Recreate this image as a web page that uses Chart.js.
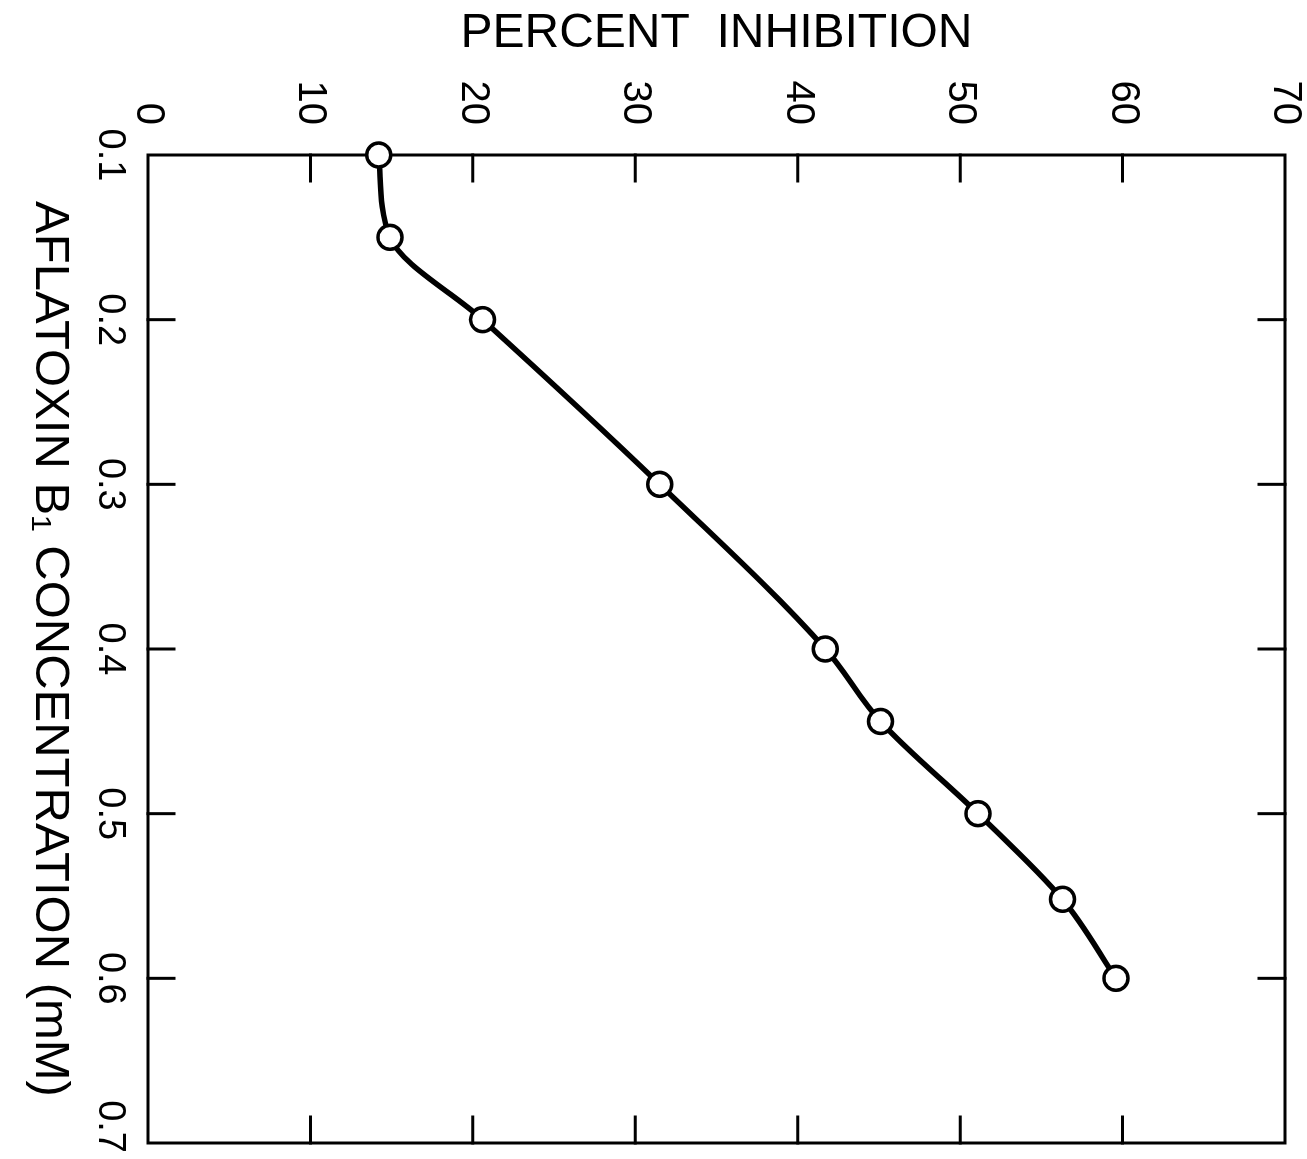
<!DOCTYPE html>
<html>
<head>
<meta charset="utf-8">
<script src="https://cdn.jsdelivr.net/npm/chart.js@4/dist/chart.umd.min.js"></script>
<style>
  html, body { margin: 0; padding: 0; background: #fff; overflow: hidden; }
  body { width: 1307px; height: 1159px; position: relative; }
  /* The figure is laid out as an ordinary chart, then turned a quarter turn clockwise */
  #wrap {
    position: absolute; left: 0; top: 0;
    width: 1159px; height: 1307px;
    transform-origin: 0 0;
    transform: translate(1307px, 0) rotate(90deg);
  }
</style>
</head>
<body>
<div id="wrap"><canvas id="c" width="1159" height="1307"></canvas></div>
<script>
// Aflatoxin B1 concentration (mM) and the percent inhibition measured at each
const concentration = [0.1, 0.15, 0.2, 0.3, 0.4, 0.444, 0.5, 0.552, 0.6];
const inhibition    = [14.2, 14.9, 20.6, 31.5, 41.7, 45.1, 51.1, 56.3, 59.6];

// Axis ticks
const concTicks = [0.1, 0.2, 0.3, 0.4, 0.5, 0.6, 0.7];
const concTickLabels = ['0.1', '0.2', '0.3', '0.4', '0.5', '0.6', '0.7'];
const pctTicks = [0, 10, 20, 30, 40, 50, 60, 70];
const pctTickLabels = ['0', '10', '20', '30', '40', '50', '60', '70'];

const FONT = "'Liberation Sans', Arial, sans-serif";
const INK = '#000';

// Box round the plot with short inward ticks on all four sides,
// plus the concentration labels (the last one is kept inside the canvas)
const framePlugin = {
  id: 'frame',
  beforeDatasetsDraw(chart) {
    const { ctx, chartArea: a, scales: { x, y } } = chart;
    const len = 26;
    ctx.save();
    ctx.strokeStyle = INK;
    ctx.lineWidth = 3;
    ctx.lineCap = 'square';
    ctx.strokeRect(a.left, a.top, a.right - a.left, a.bottom - a.top);
    ctx.beginPath();
    concTicks.forEach(v => {
      const px = x.getPixelForValue(v);
      if (px <= a.left + 2 || px >= a.right - 2) return;
      ctx.moveTo(px, a.bottom); ctx.lineTo(px, a.bottom - len);
      ctx.moveTo(px, a.top);    ctx.lineTo(px, a.top + len);
    });
    pctTicks.forEach(v => {
      const py = y.getPixelForValue(v);
      if (py <= a.top + 2 || py >= a.bottom - 2) return;
      ctx.moveTo(a.left, py);  ctx.lineTo(a.left + len, py);
      ctx.moveTo(a.right, py); ctx.lineTo(a.right - len, py);
    });
    ctx.stroke();

    ctx.fillStyle = INK;
    ctx.font = `38px ${FONT}`;
    ctx.textBaseline = 'top';
    ctx.textAlign = 'center';
    concTicks.forEach((v, i) => {
      const label = concTickLabels[i];
      const w = ctx.measureText(label).width;
      let cx = x.getPixelForValue(v);
      cx = Math.min(cx, chart.width - 6 - w / 2);
      ctx.fillText(label, cx, a.bottom + 20);
    });
    ctx.restore();
  }
};

new Chart(document.getElementById('c'), {
  type: 'line',
  data: {
    datasets: [{
      data: concentration.map((c, i) => ({ x: c, y: inhibition[i] })),
      borderColor: INK,
      borderWidth: 5.5,
      cubicInterpolationMode: 'monotone',
      pointRadius: 12,
      pointHoverRadius: 12,
      pointBorderWidth: 3.5,
      pointBackgroundColor: '#fff',
      pointBorderColor: INK,
      clip: false
    }]
  },
  options: {
    responsive: false,
    animation: false,
    devicePixelRatio: 1,
    layout: { padding: { top: 22, right: 16, left: 0, bottom: 0 } },
    plugins: { legend: { display: false }, tooltip: { enabled: false } },
    scales: {
      x: {
        type: 'linear',
        position: 'bottom',
        min: 0.1, max: 0.7,
        afterBuildTicks(scale) { scale.ticks = concTicks.map(v => ({ value: v })); },
        afterFit(scale) { scale.height = 148; scale.paddingLeft = 0; scale.paddingRight = 0; },
        grid: { display: false, drawTicks: false },
        border: { display: false },
        ticks: { display: false },
        title: {
          display: true,
          text: 'AFLATOXIN B\u2081 CONCENTRATION (mM)',
          color: INK,
          font: { family: FONT, size: 49 },
          padding: { top: 0, bottom: 20 }
        }
      },
      y: {
        type: 'linear',
        position: 'left',
        min: 0, max: 70,
        afterBuildTicks(scale) { scale.ticks = pctTicks.map(v => ({ value: v })); },
        afterFit(scale) { scale.width = 155; scale.paddingTop = 0; scale.paddingBottom = 0; },
        grid: { display: false, drawTicks: false },
        border: { display: false },
        ticks: {
          color: INK,
          padding: 30,
          autoSkip: false,
          font: { family: FONT, size: 40 },
          callback: v => pctTickLabels[pctTicks.indexOf(v)]
        },
        title: {
          display: true,
          text: 'PERCENT  INHIBITION',
          color: INK,
          font: { family: FONT, size: 48 },
          padding: { top: 5, bottom: 0 }
        }
      }
    }
  },
  plugins: [framePlugin]
});
</script>
</body>
</html>
